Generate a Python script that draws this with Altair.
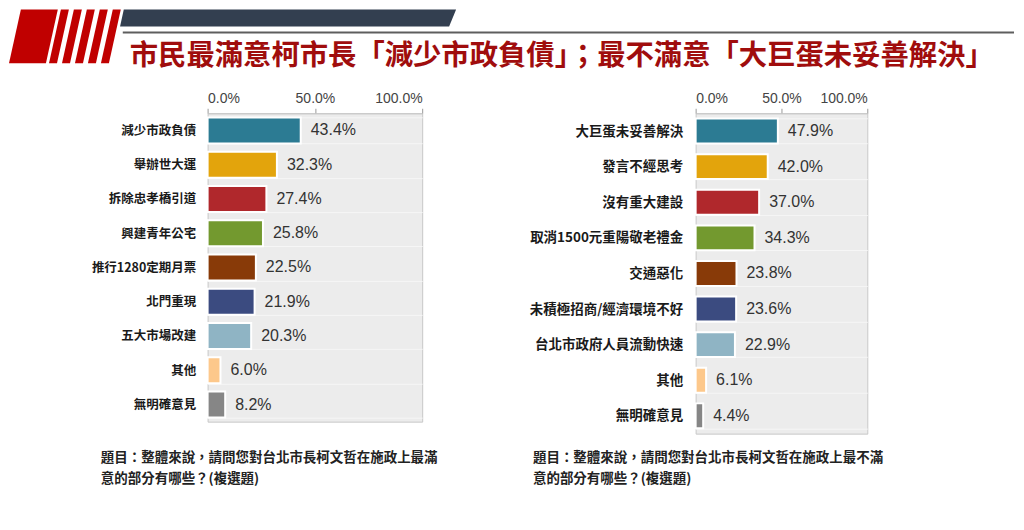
import altair as alt
import pandas as pd

# ---------------- data ----------------
title_text = "市民最滿意柯市長「減少市政負債」；最不滿意「大巨蛋未妥善解決」"

left_cats = ["減少市政負債", "舉辦世大運", "拆除忠孝橋引道", "興建青年公宅", "推行1280定期月票",
             "北門重現", "五大市場改建", "其他", "無明確意見"]
left_vals = [43.4, 32.3, 27.4, 25.8, 22.5, 21.9, 20.3, 6.0, 8.2]

right_cats = ["大巨蛋未妥善解決", "發言不經思考", "沒有重大建設", "取消1500元重陽敬老禮金", "交通惡化",
              "未積極招商/經濟環境不好", "台北市政府人員流動快速", "其他", "無明確意見"]
right_vals = [47.9, 42.0, 37.0, 34.3, 23.8, 23.6, 22.9, 6.1, 4.4]

bar_colors = ["#2c7b93", "#e3a40c", "#b0282c", "#73992f", "#883a08",
              "#3b4b80", "#8fb4c4", "#fdc88b", "#868686"]

x_ticks = [0, 50, 100]

left_note = ["題目：整體來說，請問您對台北市長柯文哲在施政上最滿", "意的部分有哪些？(複選題)"]
right_note = ["題目：整體來說，請問您對台北市長柯文哲在施政上最不滿", "意的部分有哪些？(複選題)"]

CJK = "Noto Sans CJK TC"
NUM = "Liberation Sans, Arial"

# ---------------- layout (pixels) ----------------
LX, LY = 207, 112          # left plot origin on page
LW, LH = 215, 309
RX = 696
RW, RH = 172, 321


def poly(points, ox, oy):
    pts = [(x - ox, y - oy) for x, y in points]
    return "M" + " L".join(f"{x:.1f},{y:.1f}" for x, y in pts) + " Z"


one = alt.Data(values=[{"k": 1}])


def shape_layer(path, color):
    return alt.Chart(one).mark_point(
        shape=path, filled=True, fill=color, size=4, opacity=1, strokeWidth=0
    ).encode(x=alt.value(0), y=alt.value(0))


def panel(cats, vals, width, height, pad_inner, label_size, label_pad, note, note_x):
    df = pd.DataFrame({"cat": cats, "v": vals, "rank": list(range(len(cats)))})
    ysc = alt.Y("cat:N", sort=cats, title=None,
                scale=alt.Scale(paddingInner=pad_inner, paddingOuter=pad_inner / 2),
                axis=alt.Axis(labelFont=CJK, labelFontWeight="bold", labelFontSize=label_size,
                              labelColor="#1a1a1a", labelPadding=label_pad, ticks=False,
                              domain=False, grid=True, tickBand="extent",
                              gridColor="#f6f6f6", gridWidth=1, labelLimit=300))
    bars = alt.Chart(df).mark_bar(stroke="white", strokeWidth=2).encode(
        y=ysc,
        x=alt.X("v:Q", title=None,
                scale=alt.Scale(domain=[0, 100], nice=False),
                axis=alt.Axis(orient="top", values=x_ticks,
                              labelExpr="format(datum.value, '.1f') + '%'",
                              labelFont="Liberation Sans, Arial", labelFontSize=14,
                              labelColor="#444444", labelPadding=3, tickSize=5,
                              tickColor="#9a9a9a", domainColor="#c8c8c8", grid=False)),
        color=alt.Color("rank:N", scale=alt.Scale(domain=list(range(len(cats))), range=bar_colors),
                        legend=None),
    )
    labels = alt.Chart(df).mark_text(align="left", baseline="middle", dx=10, font=NUM,
                                     fontSize=16, color="#333333").encode(
        y=alt.Y("cat:N", sort=cats),
        x=alt.X("v:Q"),
        text=alt.Text("lab:N"),
    ).transform_calculate(lab="format(datum.v, '.1f') + '%'")

    notes = []
    for i, line in enumerate(note):
        notes.append(alt.Chart(pd.DataFrame({"t": [line]})).mark_text(
            align="left", baseline="middle", font=CJK, fontWeight="bold",
            fontSize=13.5, color="#222222"
        ).encode(x=alt.value(note_x), y=alt.value(345 + 21 * i), text="t:N"))
    return [bars, labels] + notes


# ---------------- header decorations (relative to left plot origin) ----------------
s = 0.22
deco = []
block = [(8 + 54 * s, 8), (45 + 54 * s, 8), (45, 62), (8, 62)]
deco.append(shape_layer(poly(block, LX, LY), "#c00000"))
for k in range(5):
    x0 = 60 + 13 * k
    stripe = [(x0, 8), (x0 + 8, 8), (x0 + 8 - 54 * s, 62), (x0 - 54 * s, 62)]
    deco.append(shape_layer(poly(stripe, LX, LY), "#c00000"))
bar_top = [(123, 8), (456, 8), (449, 25), (123 - 17 * s, 25)]
deco.append(shape_layer(poly(bar_top, LX, LY), "#333f50"))

rule = alt.Chart(one).mark_rule(color="#5e5e5e", strokeWidth=2).encode(
    x=alt.value(122 - LX), x2=alt.value(1015 - LX), y=alt.value(31 - LY)
)
title = alt.Chart(pd.DataFrame({"t": [title_text]})).mark_text(
    align="left", baseline="middle", font=CJK, fontWeight="bold", fontSize=28.4, color="#a00d0d"
).encode(x=alt.value(129 - LX), y=alt.value(55 - LY), text="t:N")

l_layers = panel(left_cats, left_vals, LW, LH, 0.24, 12.5, 12, left_note, 100 - LX)
r_layers = panel(right_cats, right_vals, RW, RH, 0.30, 13.5, 13, right_note, 533 - RX)

left = alt.layer(*(deco + [rule, title] + l_layers)).properties(width=LW, height=LH)
right = alt.layer(*r_layers).properties(width=RW, height=RH)

chart = alt.hconcat(left, right, spacing=RX - (LX + LW), bounds="flush").properties(
    padding=0, background="white"
).configure_view(fill="#ececec", stroke="#c8c8c8")

chart.save("out.html", embed_options={"renderer": "svg", "actions": False})
